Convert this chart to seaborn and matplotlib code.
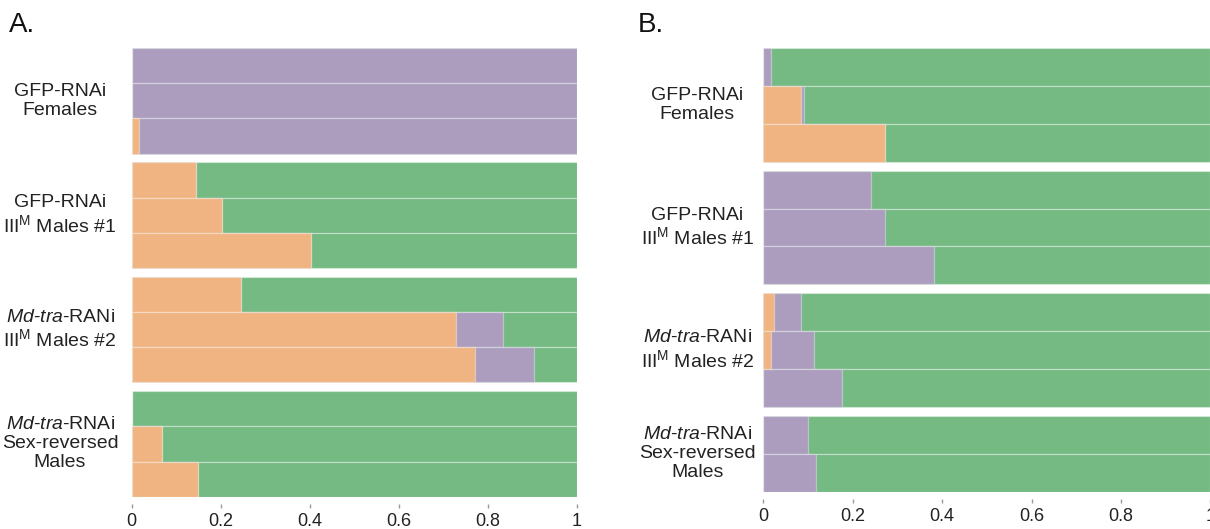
import numpy as np
import matplotlib
matplotlib.use("Agg")
import matplotlib.pyplot as plt
import matplotlib.transforms as mtransforms
import seaborn as sns

sns.set_style("white")
plt.rcParams["font.family"] = ["Liberation Sans", "DejaVu Sans"]
plt.rcParams["mathtext.fontset"] = "custom"
plt.rcParams["mathtext.rm"] = "Liberation Sans"
plt.rcParams["mathtext.it"] = "Liberation Sans:italic"
plt.rcParams["mathtext.bf"] = "Liberation Sans:bold"

# ---------------- data ----------------
group_labels = [
    "GFP-RNAi\nFemales",
    "GFP-RNAi\nIII$^{\\mathrm{M}}$ Males #1",
    "$\\mathit{Md}$-$\\mathit{tra}$-RANi\nIII$^{\\mathrm{M}}$ Males #2",
    "$\\mathit{Md}$-$\\mathit{tra}$-RNAi\nSex-reversed\nMales",
]

# Panel A: bars per group (top to bottom), proportions
sizes_A = [3, 3, 3, 3]
orange_A = [0.0, 0.0, 0.016, 0.144, 0.203, 0.403, 0.246, 0.728, 0.771, 0.0, 0.069, 0.150]
purple_A = [1.0, 1.0, 0.984, 0.0, 0.0, 0.0, 0.0, 0.106, 0.132, 0.0, 0.0, 0.0]

# Panel B
sizes_B = [3, 3, 3, 2]
orange_B = [0.0, 0.084, 0.272, 0.0, 0.0, 0.0, 0.023, 0.018, 0.0, 0.0, 0.0]
purple_B = [0.017, 0.008, 0.0, 0.241, 0.272, 0.382, 0.061, 0.095, 0.176, 0.101, 0.118]

tick_vals = [0, 0.2, 0.4, 0.6, 0.8, 1.0]
tick_labels = ["0", "0.2", "0.4", "0.6", "0.8", "1"]

GREEN = "#74BA82"
PURPLE = "#AC9DBF"
ORANGE = "#F0B482"
EDGE = (1, 1, 1, 0.35)


def draw_panel(ax, orange, purple, sizes, gap, label_x):
    pos = []
    centers = []
    p = 0.0
    for n in sizes:
        start = p
        for _ in range(n):
            pos.append(p)
            p += 1
        centers.append((start + p - 1) / 2)
        p += gap
    pos = np.array(pos)
    orange = np.array(orange)
    purple = np.array(purple)
    total = np.ones(len(pos))
    layers = [(total, GREEN), (orange + purple, PURPLE), (orange, ORANGE)]
    for vals, col in layers:
        sns.barplot(x=vals, y=pos, orient="y", native_scale=True, width=1.0,
                    color=col, saturation=1, errorbar=None,
                    edgecolor=EDGE, linewidth=0.9, ax=ax)
    ax.set_xlim(0, 1)
    ax.set_ylim(pos[-1] + 0.5, pos[0] - 0.5)
    ax.set_yticks([])
    ax.set_ylabel("")
    ax.set_xlabel("")
    ax.set_xticks(tick_vals)
    ax.set_xticklabels(tick_labels)
    for s in ["top", "right", "left"]:
        ax.spines[s].set_visible(False)
    ax.spines["bottom"].set_position(("outward", 5))
    ax.spines["bottom"].set_visible(False)
    ax.tick_params(axis="x", length=3, width=1, color="#999999", pad=4,
                   labelsize=13, labelcolor="#222222", bottom=True)
    trans = mtransforms.blended_transform_factory(ax.transAxes, ax.transData)
    for c, lab in zip(centers, group_labels):
        ax.text(label_x, c, lab, transform=trans, ha="center", va="center",
                fontsize=14, color="#222222", linespacing=1.15,
                multialignment="center")


fig = plt.figure(figsize=(12.10, 5.29), dpi=100)
W, H = 1210, 529
axA = fig.add_axes([131.7 / W, 1 - 496.7 / H, 445 / W, (496.7 - 48) / H])
axB = fig.add_axes([763.3 / W, 1 - 491.7 / H, 447 / W, (491.7 - 48) / H])

draw_panel(axA, orange_A, purple_A, sizes_A, 0.25, -0.161)
draw_panel(axB, orange_B, purple_B, sizes_B, 0.24, -0.148)

fig.text(9 / W, 1 - 25 / H, "A.", fontsize=20, va="center", ha="left", color="#111111")
fig.text(638 / W, 1 - 25 / H, "B.", fontsize=20, va="center", ha="left", color="#111111")

fig.savefig("out.png", dpi=100)
